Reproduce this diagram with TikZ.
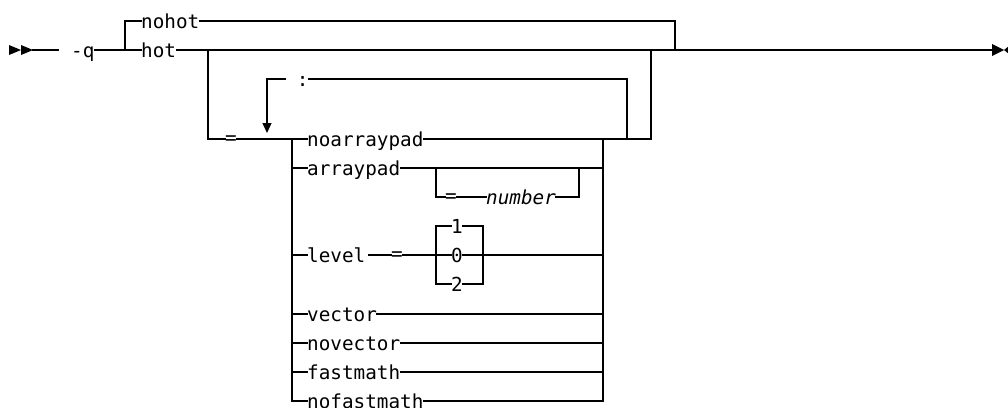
\documentclass[tikz,border=0pt]{standalone}
\usepackage{fontspec}
\newfontfamily\rrmono{DejaVu Sans Mono}
\usetikzlibrary{arrows.meta}
\newcommand{\rreq}{\raisebox{1.5pt}{=}}
\begin{document}
\begin{tikzpicture}[x=1pt,y=-1pt,
  rail/.style={line width=1.3pt,line cap=rect},
  term/.style={inner sep=0pt,anchor=west,text height=14pt,text depth=0pt,font=\rrmono\fontsize{19.3}{20}\selectfont}]
\useasboundingbox (0,0) rectangle (1008,407);
\clip (0,0) rectangle (1008,407);
% start marker
\coordinate (st) at (33,50);
\coordinate (st2) at (58,50);
\fill (9,45) -- (21,50) -- (9,55) -- cycle;
\fill (21,45) -- (33,50) -- (21,55) -- cycle;
% nodes
\node[term] (q) at (71,50) {-q};
\node[term] (nohot) at (141,21) {nohot};
\node[term] (hot) at (141,50) {hot};
\node[term] (eqa) at (225,139) {\rreq};
\node[term] (colon) at (285,79) {~:};
\node[term] (noarraypad) at (307,139) {noarraypad};
\node[term] (arraypad) at (307,168) {arraypad};
\node[term] (eqb) at (445,197) {\rreq};
\node[term] (number) at (486,197) {\itshape number};
\node[term] (level) at (307,255) {level};
\node[term] (eqc) at (391,255) {\rreq};
\node[term] (one) at (451,226) {1};
\node[term] (zero) at (451,255) {0};
\node[term] (two) at (451,284) {2};
\node[term] (vector) at (307,314) {vector};
\node[term] (novector) at (307,343) {novector};
\node[term] (fastmath) at (307,372) {fastmath};
\node[term] (nofastmath) at (307,401) {nofastmath};
% junction coordinates
\coordinate (jq) at (125,50);
\coordinate (jtop) at (675,50);
\coordinate (jeq) at (208,50);
\coordinate (jr) at (651,139);
\coordinate (loopr) at (627,139);
\coordinate (loopl) at (267,133);
\coordinate (chl) at (292,139);
\coordinate (chr) at (603,139);
\coordinate (endp) at (992,50);
% rails
\draw[rail] (st) -- (st2);
\draw[rail] (q.east) -- (hot.west);
\draw[rail] (jq) |- (nohot.west);
\draw[rail] (nohot.east) -| (jtop);
\draw[rail] (hot.east) -- (jtop) -- (endp);
\draw[rail] (jeq) |- (eqa.west);
\draw[rail] (eqa.east) -- (noarraypad.west);
\draw[rail] (noarraypad.east) -- (jr) -- (651,50);
\draw[rail] (loopr) |- (colon.east);
\draw[rail,-{Triangle[width=9pt,length=10pt]}] (colon.west) -| (loopl);
\draw[rail] (chl) |- (nofastmath.west);
\draw[rail] (chr) -- (603,401);
\draw[rail] (292,168) -- (arraypad.west);
\draw[rail] (arraypad.east) -- (603,168);
\draw[rail] (436,168) |- (eqb.west);
\draw[rail] (eqb.east) -- (number.west);
\draw[rail] (number.east) -| (579,168);
\draw[rail] (292,255) -- (level.west);
\draw[rail] (level.east) ++(3,0) -- (eqc.west);
\draw[rail] (eqc.east) -- (zero.west);
\draw[rail] (436,226) -- (436,284);
\draw[rail] (436,226) -- (one.west);
\draw[rail] (436,284) -- (two.west);
\draw[rail] (one.east) -| (483,284) -- (two.east);
\draw[rail] (zero.east) -- (603,255);
\draw[rail] (292,314) -- (vector.west);
\draw[rail] (vector.east) -- (603,314);
\draw[rail] (292,343) -- (novector.west);
\draw[rail] (novector.east) -- (603,343);
\draw[rail] (292,372) -- (fastmath.west);
\draw[rail] (fastmath.east) -- (603,372);
\draw[rail] (nofastmath.east) -- (603,401);
% end marker
\fill (endp) ++(0,-6) -- ++(12,6) -- ++(-12,6) -- cycle;
\fill (1009,46) -- (1004,50) -- (1009,54) -- cycle;
\end{tikzpicture}
\end{document}
